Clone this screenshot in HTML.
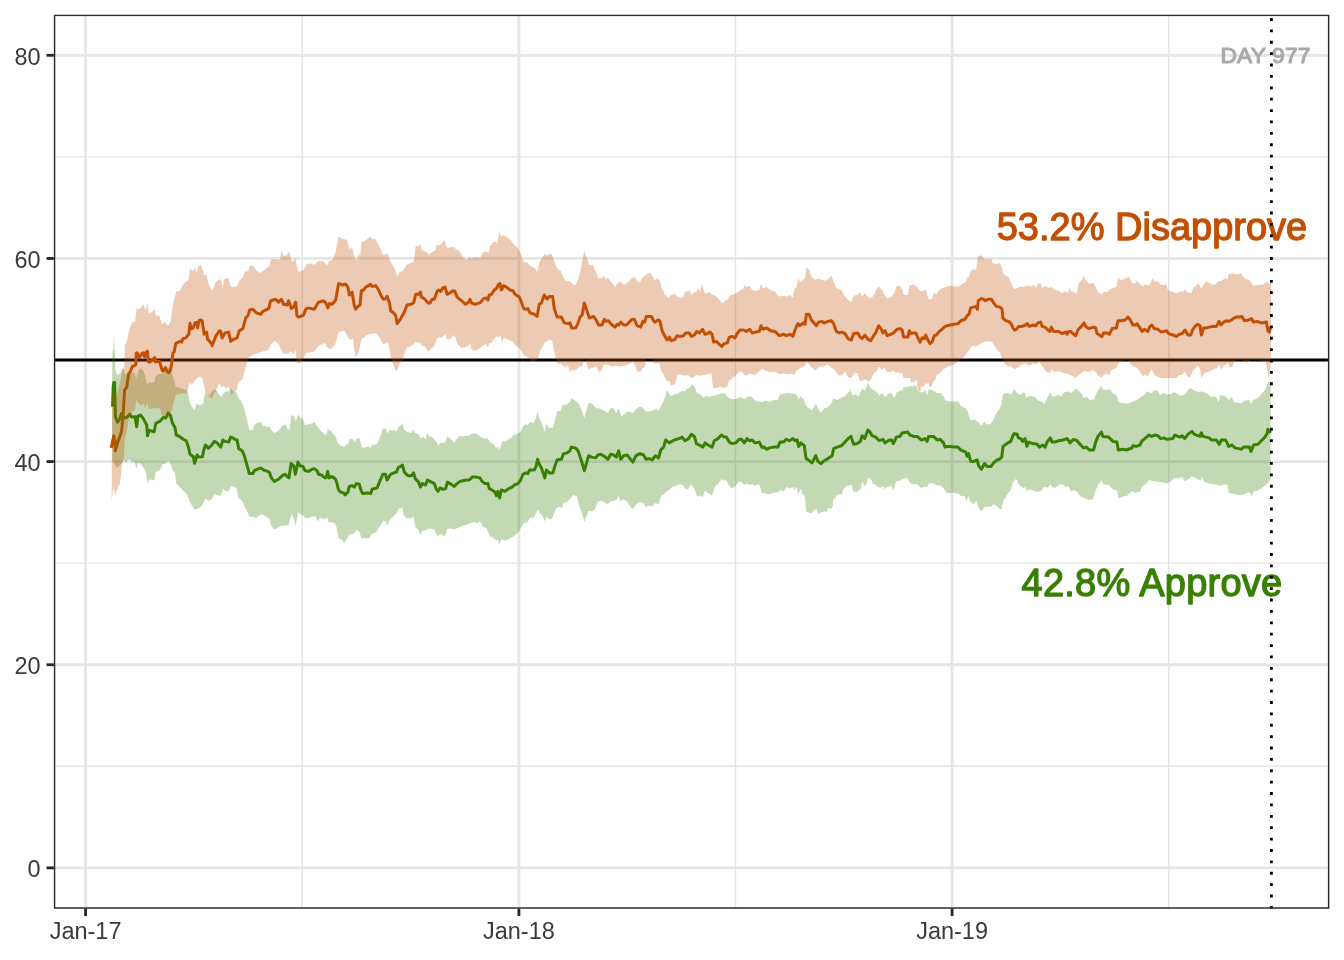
<!DOCTYPE html>
<html><head><meta charset="utf-8"><title>Approval chart</title>
<style>html,body{margin:0;padding:0;background:#fff}svg{display:block;will-change:transform;transform:translateZ(0)}text{font-family:"Liberation Sans",sans-serif}</style></head>
<body>
<svg width="1344" height="960" viewBox="0 0 1344 960">
<rect width="1344" height="960" fill="#fff"/>
<defs><clipPath id="pc"><rect x="53.85" y="14.67" width="1275.48" height="894.03"/></clipPath></defs>
<g clip-path="url(#pc)">
<g stroke="#E5E5E5" stroke-width="1.42">
<line x1="53.85" x2="1329.33" y1="766.30" y2="766.30"/>
<line x1="53.85" x2="1329.33" y1="563.16" y2="563.16"/>
<line x1="53.85" x2="1329.33" y1="360.02" y2="360.02"/>
<line x1="53.85" x2="1329.33" y1="156.88" y2="156.88"/>
<line x1="302.30" x2="302.30" y1="14.67" y2="908.70"/>
<line x1="735.50" x2="735.50" y1="14.67" y2="908.70"/>
<line x1="1168.70" x2="1168.70" y1="14.67" y2="908.70"/>
</g>
<g stroke="#E6E6E6" stroke-width="2.84">
<line x1="53.85" x2="1329.33" y1="867.87" y2="867.87"/>
<line x1="53.85" x2="1329.33" y1="664.73" y2="664.73"/>
<line x1="53.85" x2="1329.33" y1="461.59" y2="461.59"/>
<line x1="53.85" x2="1329.33" y1="258.45" y2="258.45"/>
<line x1="53.85" x2="1329.33" y1="55.31" y2="55.31"/>
<line x1="85.60" x2="85.60" y1="14.67" y2="908.70"/>
<line x1="518.90" x2="518.90" y1="14.67" y2="908.70"/>
<line x1="952.10" x2="952.10" y1="14.67" y2="908.70"/>
</g>
<line x1="53.85" x2="1329.33" y1="360.02" y2="360.02" stroke="#000" stroke-width="2.84"/>
<path d="M112.5 406.7 L113.2 386.7 L113.8 382.5 L114.6 382.5 L115.4 416.7 L117.5 422.1 L119.6 419.2 L121.7 413.3 L124.2 417.9 L126.7 417.5 L129.6 414.2 L131.7 417.1 L135.0 416.7 L136.7 426.7 L137.9 416.2 L140.4 415.0 L142.9 417.9 L146.7 425.0 L147.5 435.8 L149.2 430.4 L154.2 431.7 L155.8 423.3 L160.0 421.2 L163.3 417.5 L165.8 417.9 L168.3 412.9 L170.4 415.4 L172.5 423.3 L175.0 427.5 L176.2 435.0 L178.3 435.8 L183.3 439.2 L186.2 440.8 L188.3 446.7 L190.0 454.2 L193.3 456.7 L194.6 463.3 L197.1 455.0 L198.3 457.1 L202.5 456.7 L203.8 450.0 L205.4 445.0 L208.3 448.3 L211.7 445.2 L214.3 441.4 L217.1 442.9 L220.7 447.1 L222.9 440.0 L225.0 441.4 L228.6 442.1 L230.7 437.1 L232.9 437.9 L235.0 439.3 L237.1 440.0 L238.6 448.6 L242.1 450.7 L244.3 455.7 L247.1 465.7 L249.3 473.6 L252.9 473.6 L254.3 470.7 L257.1 469.3 L260.7 467.9 L263.6 470.0 L267.9 471.4 L269.7 472.9 L271.4 477.9 L274.3 481.4 L278.6 479.3 L282.1 475.7 L285.0 474.3 L287.1 476.4 L288.9 477.9 L291.1 463.6 L293.6 465.7 L295.4 474.3 L297.9 462.1 L300.0 465.7 L302.9 466.4 L305.0 470.7 L308.6 471.4 L312.1 469.3 L314.3 468.6 L317.1 470.7 L318.6 474.3 L321.4 475.0 L325.0 477.9 L326.4 477.1 L327.6 471.4 L329.0 477.9 L331.4 476.4 L335.0 478.6 L336.4 481.4 L338.6 490.0 L340.7 492.1 L343.6 492.9 L345.0 495.0 L347.9 492.1 L349.3 486.4 L352.1 485.7 L354.3 487.1 L356.4 483.6 L359.3 484.3 L361.4 491.4 L362.9 493.6 L367.9 492.9 L370.7 493.6 L372.1 489.3 L377.1 487.9 L380.0 480.7 L382.9 474.3 L385.4 474.3 L387.1 480.0 L390.0 475.0 L392.0 473.6 L393.6 472.9 L396.4 472.1 L398.6 467.1 L400.7 466.4 L402.4 465.0 L404.3 472.1 L407.9 475.7 L411.4 475.7 L413.6 472.9 L415.3 478.6 L418.6 482.1 L420.4 487.1 L422.4 483.6 L425.7 485.0 L427.4 480.0 L430.0 481.4 L434.3 483.6 L436.4 489.3 L438.1 491.4 L440.0 487.9 L442.9 489.3 L445.7 488.6 L447.4 482.1 L450.0 483.6 L454.3 486.4 L457.1 483.6 L460.0 481.4 L462.9 480.7 L466.4 480.0 L469.3 480.0 L472.1 477.1 L476.4 477.1 L480.0 477.9 L482.1 481.4 L485.0 483.6 L487.9 483.6 L489.3 488.6 L492.1 490.0 L495.0 492.1 L496.4 495.7 L497.9 491.4 L499.6 497.9 L501.4 490.0 L505.0 491.4 L508.6 488.6 L512.1 487.1 L514.3 485.0 L517.9 483.6 L520.7 480.0 L522.9 474.3 L525.7 472.9 L527.9 473.6 L529.6 470.0 L534.3 470.0 L536.1 466.4 L537.6 459.3 L539.3 464.3 L541.4 467.9 L543.6 474.3 L544.7 477.9 L546.4 470.0 L549.3 472.9 L552.9 472.9 L555.0 465.7 L557.1 460.0 L561.4 459.3 L563.6 453.6 L567.1 452.9 L570.0 450.7 L571.4 447.1 L575.0 447.9 L577.0 449.3 L578.6 452.1 L581.4 460.7 L584.3 470.7 L586.4 463.6 L588.6 455.7 L591.4 457.1 L595.7 457.9 L597.9 455.0 L600.7 454.3 L604.3 456.4 L607.9 459.3 L610.7 454.3 L613.6 455.0 L616.4 457.1 L618.6 450.7 L620.7 459.3 L623.6 455.7 L627.1 455.0 L630.0 458.6 L632.9 462.1 L636.0 455.7 L640.0 453.6 L643.6 455.0 L646.0 459.3 L649.3 458.6 L652.1 460.0 L655.4 455.7 L658.6 457.9 L660.7 450.0 L663.6 447.1 L665.7 440.0 L669.3 442.9 L672.9 440.7 L676.4 439.3 L679.3 438.6 L682.1 437.1 L685.0 440.7 L688.6 438.6 L691.4 434.3 L694.3 436.4 L696.4 443.6 L699.3 445.0 L702.9 447.1 L705.0 442.9 L707.9 445.0 L712.1 447.1 L714.3 440.7 L717.9 438.6 L721.4 435.0 L724.3 437.1 L726.4 437.1 L729.3 442.1 L732.1 443.6 L735.7 442.9 L739.3 439.3 L741.4 439.3 L744.3 442.9 L747.1 438.6 L749.3 440.7 L752.1 440.0 L755.0 442.9 L759.3 442.1 L762.0 447.4 L764.3 447.1 L766.4 449.3 L769.3 447.9 L773.6 447.1 L777.9 447.1 L780.0 442.1 L783.6 442.1 L786.1 439.3 L789.3 440.7 L792.9 438.6 L795.0 440.7 L797.1 440.0 L798.6 446.4 L800.7 442.9 L804.3 445.7 L806.1 458.6 L809.3 460.7 L812.1 462.9 L815.7 455.7 L817.9 461.4 L821.0 463.6 L824.3 460.7 L827.9 458.6 L832.1 455.7 L833.6 448.6 L837.1 447.1 L841.4 445.7 L845.0 442.1 L848.6 437.9 L851.0 436.4 L853.6 444.3 L857.1 443.6 L860.4 441.4 L862.1 435.7 L864.7 438.6 L867.9 430.0 L870.0 432.1 L872.1 435.7 L875.7 437.1 L879.3 440.7 L882.9 439.3 L885.0 442.9 L889.3 440.0 L891.4 440.0 L893.3 443.6 L896.4 437.1 L900.0 436.4 L902.1 432.9 L907.9 432.1 L910.0 435.0 L913.6 436.4 L917.1 436.4 L921.4 440.0 L925.0 438.6 L927.1 441.4 L928.6 436.4 L933.6 436.4 L937.1 440.0 L940.0 439.3 L943.6 442.9 L945.0 447.1 L947.0 446.4 L950.0 446.4 L954.3 447.1 L957.9 447.1 L960.7 450.0 L965.7 452.1 L967.1 456.4 L968.6 453.6 L970.7 461.4 L973.6 461.4 L977.1 460.0 L978.6 465.7 L981.4 469.3 L984.6 463.6 L987.1 466.4 L991.1 466.4 L993.6 462.9 L997.1 460.0 L999.3 459.3 L1001.7 457.1 L1003.1 446.4 L1005.0 445.0 L1007.9 442.9 L1010.7 441.4 L1012.9 435.7 L1014.3 433.6 L1017.1 434.3 L1018.3 437.9 L1020.7 438.6 L1022.6 441.4 L1025.0 438.6 L1026.9 446.4 L1028.6 442.1 L1032.9 443.6 L1037.1 444.3 L1039.3 447.1 L1042.9 445.0 L1045.0 447.1 L1047.1 442.1 L1050.3 437.9 L1052.1 442.1 L1055.0 442.1 L1058.6 440.7 L1062.9 440.0 L1067.1 438.6 L1070.0 442.9 L1073.6 439.3 L1077.1 440.7 L1080.0 444.3 L1083.6 447.9 L1086.4 447.1 L1089.3 450.0 L1093.6 450.0 L1095.7 442.1 L1097.9 436.4 L1101.4 432.1 L1102.9 436.4 L1108.6 437.1 L1112.9 441.4 L1116.9 442.1 L1118.3 450.0 L1122.9 449.3 L1126.4 450.0 L1132.0 447.9 L1132.9 445.7 L1136.4 446.4 L1140.0 445.0 L1142.1 440.7 L1145.7 437.9 L1149.0 435.0 L1151.4 436.4 L1155.0 435.0 L1157.9 435.7 L1160.7 438.6 L1163.6 437.9 L1167.1 439.3 L1172.9 438.6 L1174.7 435.0 L1177.9 436.4 L1180.0 437.1 L1182.1 435.7 L1184.7 438.6 L1187.9 434.3 L1191.9 431.4 L1194.3 434.3 L1197.9 435.7 L1200.0 436.4 L1201.4 432.9 L1202.9 436.4 L1206.4 437.1 L1209.3 437.9 L1211.4 440.0 L1216.4 440.0 L1219.3 444.3 L1221.4 440.0 L1225.7 440.0 L1228.6 446.4 L1232.1 445.0 L1235.0 447.9 L1238.6 448.6 L1241.4 449.3 L1243.6 447.1 L1249.3 447.1 L1251.0 451.4 L1253.6 445.0 L1257.9 444.3 L1261.4 440.7 L1265.0 437.1 L1267.1 433.6 L1267.9 429.3 L1270.7 432.9" fill="none" stroke="#388004" stroke-width="3.0" stroke-linejoin="round" stroke-linecap="butt"/>
<path d="M111.2 447.9 L113.8 435.8 L114.8 440.0 L115.4 450.8 L117.9 441.7 L120.4 435.0 L121.7 430.0 L123.3 411.7 L124.6 390.0 L126.7 387.5 L128.8 373.3 L130.4 371.7 L132.1 366.7 L134.2 365.8 L135.8 364.6 L136.2 353.3 L137.1 352.9 L139.2 357.5 L142.1 353.3 L143.3 352.9 L144.6 356.7 L146.2 352.1 L147.5 351.2 L148.3 361.7 L150.0 362.1 L152.1 360.0 L154.6 357.5 L155.4 362.1 L157.5 361.2 L159.6 361.7 L162.1 370.0 L162.9 371.2 L165.4 367.5 L167.1 371.7 L168.8 372.5 L170.4 370.4 L171.7 363.3 L172.9 353.3 L174.2 351.7 L175.8 343.3 L177.9 342.5 L180.4 341.2 L181.7 342.1 L182.9 338.8 L185.8 337.9 L188.8 334.2 L190.0 323.3 L191.2 328.8 L192.9 328.3 L195.0 322.9 L196.7 322.5 L197.5 327.9 L199.2 320.4 L200.8 320.0 L202.1 320.8 L204.2 334.2 L206.7 332.1 L207.5 339.2 L209.2 340.8 L211.7 344.0 L212.1 345.7 L215.7 336.4 L219.3 330.7 L220.7 331.4 L222.1 337.9 L225.0 332.9 L228.6 332.1 L230.7 341.4 L233.6 339.3 L237.1 337.9 L239.3 330.7 L242.9 328.6 L245.7 317.9 L247.9 315.7 L249.7 310.0 L252.9 309.3 L256.4 312.9 L260.7 314.3 L262.9 311.4 L268.6 308.6 L270.7 300.7 L275.7 299.3 L278.6 302.1 L281.4 299.3 L283.6 304.3 L287.1 305.0 L288.6 300.7 L291.4 308.6 L293.6 307.1 L295.7 302.1 L296.9 315.7 L298.6 317.1 L303.6 315.0 L305.7 309.3 L307.9 307.9 L314.3 309.3 L318.6 302.1 L323.6 300.7 L325.7 302.9 L327.9 307.9 L329.3 303.6 L332.1 304.3 L335.7 300.0 L338.6 283.6 L342.9 285.0 L345.7 284.0 L347.9 287.1 L349.3 295.0 L352.1 292.1 L354.3 305.7 L355.7 309.3 L357.1 307.1 L360.0 305.0 L361.4 290.7 L363.6 290.0 L365.7 287.1 L368.6 285.7 L370.4 284.3 L372.1 286.4 L375.7 285.7 L378.6 290.0 L381.4 296.4 L383.6 299.3 L385.7 298.6 L387.1 296.4 L389.3 302.1 L390.7 310.7 L393.6 312.9 L395.7 315.7 L397.1 323.6 L400.7 318.6 L403.6 313.6 L407.1 305.0 L410.7 304.3 L413.6 302.9 L415.7 294.3 L418.6 294.3 L420.4 292.1 L421.4 297.1 L424.3 298.6 L427.9 302.9 L430.0 302.9 L432.1 299.3 L434.3 299.3 L437.1 291.4 L438.6 290.0 L440.7 291.4 L442.9 287.9 L445.0 287.1 L447.1 294.3 L450.0 292.9 L452.9 290.7 L455.0 291.4 L457.1 297.1 L461.4 300.7 L465.7 304.3 L468.6 302.1 L470.0 299.3 L471.4 302.9 L475.0 304.3 L480.0 302.9 L483.6 298.6 L486.4 297.9 L487.9 300.0 L489.3 295.0 L491.4 294.3 L494.3 290.0 L496.4 288.6 L498.6 284.3 L500.0 283.6 L501.4 290.0 L503.6 285.7 L506.4 287.1 L510.0 290.0 L512.9 290.7 L515.0 294.3 L519.3 297.1 L521.4 302.1 L523.6 308.6 L525.7 309.3 L527.9 308.6 L530.0 312.9 L534.3 314.3 L537.1 316.4 L539.3 304.3 L541.4 302.9 L544.3 295.0 L547.0 299.0 L549.3 296.4 L552.6 296.4 L554.3 308.6 L557.1 317.1 L561.4 317.1 L564.3 322.9 L567.9 323.6 L570.0 322.9 L571.7 327.9 L575.7 327.9 L577.9 323.6 L580.0 317.1 L582.1 315.0 L584.3 302.9 L586.4 309.3 L589.3 317.9 L593.6 316.4 L595.7 319.3 L598.6 325.0 L602.1 325.0 L604.3 319.3 L606.0 321.4 L608.3 320.7 L611.4 324.3 L615.0 327.1 L617.1 324.3 L618.6 325.0 L620.7 322.1 L623.6 325.0 L626.4 325.0 L629.3 322.1 L632.1 319.3 L634.3 319.3 L637.1 325.7 L640.7 327.1 L642.9 321.4 L644.6 322.1 L646.4 316.4 L651.4 316.4 L653.6 320.7 L655.0 322.1 L657.9 320.0 L659.7 320.7 L662.1 330.7 L665.0 336.4 L667.1 340.0 L669.3 337.1 L671.1 340.7 L675.0 339.3 L676.9 335.7 L680.7 336.4 L683.6 335.7 L685.7 332.9 L689.3 332.9 L691.4 336.4 L694.3 335.0 L696.9 331.4 L699.3 332.9 L702.6 329.3 L705.0 334.3 L707.1 333.6 L710.0 332.1 L712.1 334.3 L713.6 342.1 L716.4 341.4 L719.3 344.3 L721.7 346.4 L724.3 343.6 L727.4 342.9 L729.3 337.1 L732.0 336.4 L735.0 337.9 L737.1 333.6 L740.0 330.0 L743.6 330.0 L746.4 331.4 L749.6 329.3 L752.4 332.9 L755.7 332.1 L759.3 331.4 L761.0 325.7 L762.9 329.3 L766.7 327.9 L770.7 330.7 L775.0 331.4 L779.3 335.7 L783.6 334.3 L786.4 335.7 L790.0 334.3 L792.9 336.4 L795.0 330.0 L797.9 323.6 L800.0 325.7 L803.3 322.9 L805.0 324.3 L806.4 314.3 L809.0 314.3 L811.4 320.0 L815.0 324.3 L816.4 325.7 L818.6 322.1 L822.1 321.4 L824.3 322.9 L827.9 321.4 L831.4 320.7 L833.6 323.6 L836.4 331.4 L839.3 332.9 L842.1 332.1 L845.0 333.6 L847.9 338.6 L851.4 340.0 L853.6 333.6 L857.9 332.9 L860.0 337.1 L862.1 338.6 L865.0 335.0 L867.9 339.3 L870.7 340.7 L873.6 335.7 L875.7 332.9 L878.6 325.7 L881.4 329.3 L882.9 332.9 L885.0 330.7 L887.1 335.7 L890.7 334.3 L893.6 332.9 L897.1 329.3 L900.0 328.6 L902.1 330.0 L903.6 337.1 L907.9 337.1 L909.3 330.7 L910.7 333.6 L913.6 332.9 L915.7 332.9 L917.0 335.7 L917.9 337.9 L920.0 342.1 L922.1 337.9 L924.3 338.6 L925.7 335.0 L927.9 340.0 L930.0 343.6 L932.1 342.1 L934.3 335.7 L936.4 335.0 L939.3 331.4 L942.1 329.3 L945.0 326.4 L950.0 325.0 L954.3 324.3 L957.9 323.6 L960.7 320.7 L965.0 319.3 L967.1 315.7 L968.9 314.3 L970.7 307.9 L973.6 307.1 L976.0 306.4 L977.4 309.3 L978.3 300.7 L981.4 298.6 L983.6 299.3 L985.4 300.7 L987.9 299.3 L991.4 299.3 L993.6 302.9 L996.4 306.4 L1000.0 307.1 L1002.1 309.3 L1002.9 317.9 L1005.7 320.7 L1008.6 321.4 L1011.1 323.6 L1012.9 327.9 L1014.6 330.0 L1016.4 329.3 L1018.6 326.4 L1022.1 326.4 L1025.4 325.0 L1027.1 323.6 L1029.3 326.4 L1032.9 325.0 L1035.7 325.7 L1037.9 322.9 L1040.7 322.1 L1042.1 326.4 L1045.0 327.1 L1047.9 330.0 L1050.0 331.4 L1051.4 327.1 L1053.6 331.4 L1058.6 331.4 L1062.1 333.6 L1065.7 332.1 L1067.1 334.3 L1068.6 331.4 L1070.7 331.4 L1072.9 333.6 L1075.7 335.7 L1077.9 330.0 L1081.4 326.4 L1084.0 322.9 L1085.7 326.4 L1088.6 328.6 L1093.6 327.1 L1095.7 327.9 L1097.1 333.6 L1102.0 336.7 L1103.6 332.9 L1107.1 332.9 L1109.3 334.3 L1112.1 328.6 L1116.4 327.9 L1118.1 320.7 L1121.4 320.7 L1125.0 320.0 L1128.1 317.1 L1130.7 320.7 L1132.9 325.0 L1135.3 325.0 L1137.1 323.6 L1139.3 327.1 L1142.1 331.4 L1144.3 329.3 L1147.9 331.4 L1150.0 326.4 L1151.9 325.0 L1154.3 328.6 L1157.9 329.3 L1161.4 332.1 L1164.3 331.4 L1166.4 330.7 L1168.6 333.6 L1172.9 335.0 L1176.4 336.4 L1179.3 334.3 L1182.1 333.6 L1185.0 330.0 L1187.9 335.0 L1190.7 335.0 L1192.9 329.3 L1195.7 325.7 L1197.6 324.3 L1200.0 325.7 L1201.4 335.0 L1203.6 327.9 L1206.4 327.9 L1209.3 327.1 L1212.9 326.4 L1216.4 326.4 L1219.0 321.4 L1221.0 325.0 L1223.6 322.1 L1226.4 320.7 L1228.6 321.4 L1231.4 320.0 L1234.3 317.9 L1236.4 317.1 L1239.3 317.1 L1241.9 316.4 L1244.3 320.7 L1248.6 320.0 L1251.4 318.6 L1253.6 322.1 L1257.1 321.4 L1261.4 322.9 L1266.4 322.1 L1267.9 330.7 L1269.3 332.1 L1271.0 326.4" fill="none" stroke="#C25004" stroke-width="3.0" stroke-linejoin="round" stroke-linecap="butt"/>
<path d="M112.2 380.0 L112.3 351.7 L113.3 350.0 L114.3 334.2 L115.0 358.3 L115.4 370.8 L117.5 375.0 L120.0 373.3 L122.5 367.5 L123.8 369.2 L125.0 374.2 L128.3 373.3 L132.1 372.9 L134.2 372.5 L135.4 375.0 L136.2 380.0 L137.1 372.5 L137.5 378.3 L138.3 370.0 L140.8 368.3 L143.3 370.8 L145.8 377.5 L147.1 385.0 L149.2 382.5 L154.2 382.5 L155.4 376.7 L158.3 374.2 L163.3 373.8 L166.7 369.2 L168.3 366.7 L170.8 370.8 L172.9 376.7 L173.3 378.3 L175.8 386.7 L180.0 387.9 L186.7 390.0 L187.5 390.8 L190.0 403.3 L192.5 407.5 L194.6 410.0 L196.7 403.3 L200.0 405.8 L203.3 403.3 L204.6 395.0 L205.4 392.5 L208.3 395.4 L208.9 395.7 L211.4 392.1 L215.0 389.3 L217.1 390.7 L217.9 393.6 L221.4 397.1 L223.6 392.9 L226.4 391.4 L229.0 391.1 L230.7 387.9 L233.6 391.7 L236.4 392.1 L238.6 397.9 L241.4 401.4 L244.3 408.6 L247.1 420.0 L249.3 430.0 L252.9 430.0 L254.3 425.0 L257.1 422.9 L260.7 421.4 L262.9 425.7 L267.9 427.1 L269.3 426.4 L271.4 430.0 L274.3 432.9 L278.6 430.7 L282.1 425.7 L285.7 424.3 L287.1 428.6 L289.3 430.0 L291.4 415.0 L294.3 416.4 L295.7 421.4 L298.3 414.3 L300.0 417.9 L302.9 418.6 L305.0 425.0 L308.6 424.3 L312.9 422.9 L314.3 421.4 L316.4 425.0 L320.0 430.0 L325.0 435.0 L326.9 433.6 L327.9 427.9 L329.3 430.7 L331.4 430.0 L332.9 434.3 L335.0 435.0 L337.9 442.9 L340.7 445.7 L344.3 447.1 L345.7 445.0 L348.6 442.9 L350.0 438.6 L352.9 439.3 L355.0 442.1 L357.1 437.9 L359.3 437.9 L361.4 445.7 L362.9 447.9 L368.6 446.4 L370.7 447.9 L372.1 445.0 L377.1 444.3 L380.0 437.1 L382.9 428.6 L385.7 428.6 L387.4 433.6 L390.0 430.0 L392.0 430.4 L393.6 430.0 L396.4 431.4 L398.6 426.4 L400.7 425.7 L402.4 423.6 L404.3 430.0 L407.9 432.1 L411.4 432.9 L413.3 429.3 L415.0 432.9 L418.6 434.3 L420.7 438.6 L423.6 437.1 L425.7 439.3 L427.1 432.9 L429.3 436.4 L432.1 437.1 L435.0 440.0 L438.6 445.7 L440.0 442.9 L443.6 442.9 L445.7 441.4 L447.1 436.4 L450.0 437.9 L454.3 442.9 L456.4 439.3 L460.0 435.7 L462.1 436.4 L466.4 435.7 L469.3 435.7 L472.1 433.6 L476.4 433.6 L479.3 435.7 L482.1 437.9 L485.0 438.6 L487.9 438.6 L490.0 442.1 L493.6 444.3 L496.4 448.6 L497.9 445.7 L499.3 450.7 L501.4 442.9 L502.9 440.7 L505.0 441.4 L508.6 439.3 L512.1 437.1 L514.3 434.3 L517.1 434.3 L520.7 431.4 L522.9 426.4 L525.7 424.3 L527.9 425.0 L530.0 421.4 L533.6 423.6 L535.7 418.6 L537.6 412.1 L539.3 418.6 L541.4 422.1 L543.6 427.9 L544.7 432.1 L546.4 424.3 L549.3 427.9 L552.9 427.9 L555.0 420.0 L557.1 411.4 L560.7 410.7 L562.9 405.0 L567.1 404.3 L570.0 401.4 L571.4 398.6 L574.3 400.0 L577.0 402.1 L578.6 403.6 L581.4 409.3 L584.3 417.9 L586.4 410.0 L588.6 402.9 L592.1 403.6 L595.7 407.9 L600.0 408.6 L604.3 410.7 L607.9 412.9 L610.7 407.9 L613.6 408.6 L616.4 412.9 L618.6 407.9 L621.4 416.4 L624.3 414.3 L627.1 411.4 L630.0 412.1 L632.9 413.6 L635.7 409.3 L640.0 406.4 L642.9 407.9 L645.7 411.4 L650.0 411.4 L653.6 410.0 L656.4 408.6 L658.6 410.7 L661.4 405.0 L663.6 400.7 L665.0 397.1 L666.9 390.0 L668.6 392.9 L670.7 395.7 L674.3 394.3 L678.6 393.6 L681.4 390.7 L684.3 391.4 L686.4 389.3 L689.3 387.9 L692.1 384.3 L695.0 387.1 L696.4 392.1 L699.3 394.3 L701.4 395.0 L703.6 397.9 L705.7 395.7 L708.6 397.1 L712.9 395.7 L717.1 395.0 L721.4 393.6 L725.0 392.9 L727.1 396.4 L730.0 398.6 L733.6 399.3 L737.1 398.6 L740.7 397.1 L744.3 399.3 L747.9 396.4 L751.4 396.4 L754.3 400.0 L758.6 401.4 L762.0 402.1 L765.7 400.7 L769.3 402.1 L773.6 400.0 L777.9 400.0 L779.3 395.0 L783.6 393.6 L787.9 392.9 L792.1 393.6 L796.4 394.3 L798.6 399.3 L800.7 396.4 L803.6 399.3 L805.7 405.0 L808.6 407.9 L812.1 410.7 L815.7 403.6 L817.9 407.9 L820.7 412.9 L824.3 408.6 L827.9 407.1 L830.7 404.3 L833.6 398.6 L837.1 400.0 L840.7 397.9 L844.3 396.4 L847.9 392.9 L850.0 390.0 L852.9 395.7 L855.7 394.3 L858.6 396.4 L862.1 388.6 L865.0 390.7 L867.9 382.9 L870.7 388.6 L873.6 390.0 L876.4 391.4 L879.3 395.7 L882.1 392.9 L885.0 397.1 L888.6 393.6 L890.0 393.1 L891.6 393.3 L893.1 396.5 L894.4 397.8 L895.5 395.9 L896.5 392.6 L898.3 391.5 L900.2 390.7 L901.2 389.2 L902.2 391.8 L903.3 387.6 L905.1 387.1 L908.0 386.6 L909.0 387.6 L910.1 385.3 L910.8 385.8 L912.4 387.1 L914.0 385.3 L915.0 386.0 L916.6 385.8 L917.3 389.2 L918.4 391.2 L919.9 391.2 L921.0 392.8 L922.6 392.3 L923.9 392.0 L924.6 389.9 L925.7 390.7 L926.5 393.3 L927.5 395.4 L928.3 389.7 L929.8 389.2 L931.7 389.4 L933.2 390.5 L934.5 391.5 L935.6 391.2 L936.6 393.1 L939.5 393.1 L941.6 393.3 L942.1 395.4 L943.6 396.2 L944.7 399.6 L945.5 401.4 L946.5 400.1 L947.0 401.0 L950.0 401.4 L954.3 401.4 L958.6 401.4 L960.7 405.7 L965.7 408.6 L967.9 412.1 L970.0 420.0 L972.9 420.0 L975.0 419.3 L977.9 422.1 L981.4 425.7 L984.3 421.4 L986.4 424.3 L990.7 424.3 L993.6 419.3 L996.4 413.6 L999.3 409.3 L1001.4 404.3 L1002.9 395.0 L1005.0 392.9 L1008.6 393.6 L1011.4 394.3 L1014.3 389.3 L1017.1 392.9 L1020.0 395.0 L1022.6 392.9 L1024.3 392.1 L1026.4 397.9 L1029.3 395.7 L1034.3 396.4 L1038.6 400.7 L1042.1 401.4 L1044.3 404.3 L1047.1 398.6 L1050.3 392.1 L1052.1 397.1 L1055.7 395.7 L1059.3 395.0 L1061.1 397.1 L1064.3 392.1 L1068.6 391.4 L1071.4 392.9 L1076.4 388.6 L1079.3 391.4 L1082.1 394.3 L1083.6 397.9 L1087.1 397.1 L1090.0 400.0 L1094.0 399.3 L1096.4 393.6 L1098.6 389.3 L1101.1 385.7 L1102.9 389.3 L1105.7 390.0 L1110.0 389.3 L1112.9 393.6 L1116.4 395.0 L1118.6 402.1 L1122.9 402.9 L1127.1 403.6 L1132.0 402.1 L1133.6 401.4 L1137.9 399.3 L1141.4 396.4 L1143.6 395.7 L1146.4 391.4 L1149.3 392.1 L1151.4 393.6 L1154.3 390.0 L1157.9 390.7 L1160.0 395.0 L1162.9 392.9 L1166.4 394.3 L1170.7 394.3 L1174.3 392.1 L1177.9 394.3 L1180.7 395.7 L1185.0 394.3 L1187.9 390.0 L1190.7 387.9 L1195.0 390.7 L1198.6 392.1 L1202.1 391.4 L1206.4 392.9 L1210.7 396.4 L1215.7 396.4 L1218.6 402.1 L1220.4 395.0 L1223.6 395.7 L1225.7 396.4 L1228.6 400.0 L1231.4 397.1 L1234.3 402.1 L1238.6 402.9 L1241.4 403.6 L1244.3 400.7 L1249.3 400.0 L1251.0 404.3 L1253.6 400.0 L1257.9 397.9 L1261.4 394.3 L1264.3 390.7 L1266.4 387.1 L1268.6 380.7 L1270.7 384.3 L1270.7 479.3 L1267.9 482.9 L1265.0 485.7 L1261.4 487.9 L1257.9 490.7 L1253.6 491.4 L1251.4 496.4 L1250.0 492.1 L1246.4 492.9 L1242.1 495.0 L1237.9 495.0 L1232.1 493.6 L1228.6 492.9 L1227.6 485.0 L1225.0 484.3 L1219.3 485.7 L1215.0 484.3 L1209.3 483.6 L1203.6 481.4 L1202.1 476.4 L1200.7 480.7 L1196.4 478.6 L1191.9 476.4 L1187.9 479.3 L1185.0 481.4 L1182.1 477.1 L1177.9 478.6 L1174.3 477.9 L1170.7 481.4 L1166.4 483.6 L1160.7 482.1 L1155.0 481.4 L1151.4 480.7 L1149.3 480.0 L1145.7 484.3 L1142.1 486.4 L1140.0 491.4 L1137.9 492.1 L1135.0 492.9 L1132.0 490.7 L1127.1 495.7 L1122.9 496.4 L1118.6 498.6 L1117.1 490.7 L1112.9 489.3 L1108.6 485.0 L1103.1 484.3 L1101.4 480.0 L1097.9 485.7 L1095.0 492.1 L1092.9 499.3 L1088.6 500.0 L1084.3 497.9 L1080.7 496.4 L1077.1 492.1 L1074.3 490.0 L1070.7 491.4 L1068.6 486.4 L1065.7 487.1 L1062.1 484.3 L1058.6 485.0 L1055.0 487.9 L1052.1 487.1 L1050.3 484.3 L1047.1 487.9 L1044.3 486.4 L1041.4 490.7 L1037.9 492.1 L1033.6 490.7 L1029.3 489.3 L1026.9 491.4 L1025.4 487.1 L1023.1 488.6 L1021.4 485.7 L1018.6 485.0 L1017.1 480.0 L1015.0 479.3 L1012.9 482.9 L1010.7 490.0 L1007.9 493.6 L1005.0 498.6 L1003.1 500.7 L1001.7 509.3 L999.3 508.6 L997.1 506.4 L993.6 504.3 L991.1 506.4 L987.1 507.1 L984.6 507.1 L981.4 511.4 L978.6 507.9 L976.4 500.7 L973.6 504.3 L970.3 501.4 L968.3 495.7 L966.4 502.1 L965.0 496.4 L960.7 495.7 L957.9 493.6 L954.3 492.9 L950.0 492.9 L947.0 492.9 L943.6 488.6 L940.0 485.0 L937.1 485.7 L933.6 482.9 L928.6 483.6 L927.1 487.1 L925.0 486.4 L921.4 487.9 L917.1 484.3 L913.6 484.3 L910.0 482.9 L907.9 478.6 L905.0 477.9 L902.1 479.3 L899.2 481.2 L896.2 481.2 L894.2 487.9 L892.9 490.0 L891.7 486.2 L889.6 486.2 L887.1 487.1 L884.6 489.2 L883.3 486.2 L881.2 487.5 L878.3 487.5 L874.6 484.2 L872.5 483.8 L871.7 480.4 L868.3 477.5 L867.1 480.8 L865.7 485.8 L864.2 485.8 L862.7 482.1 L861.7 483.8 L860.7 490.4 L859.6 489.2 L856.7 492.1 L853.3 491.7 L852.5 489.6 L851.8 484.2 L850.0 485.4 L847.5 485.4 L845.0 487.5 L843.3 489.6 L841.7 494.6 L839.2 494.2 L837.5 494.6 L836.2 495.8 L835.0 498.8 L833.3 499.2 L832.7 505.8 L831.7 508.3 L829.6 508.2 L827.5 508.8 L826.7 512.5 L824.6 511.2 L822.1 512.5 L820.0 512.5 L818.3 514.6 L816.7 509.2 L815.4 509.0 L813.3 510.8 L811.7 513.3 L808.8 512.5 L806.2 512.1 L805.4 503.3 L804.8 495.4 L802.5 494.6 L801.7 489.6 L800.4 489.2 L798.3 494.2 L796.7 487.5 L795.8 487.1 L795.0 490.0 L792.9 487.1 L790.0 488.6 L786.4 487.1 L783.6 491.4 L780.7 490.0 L777.9 492.1 L772.9 492.9 L768.6 494.3 L765.7 493.6 L762.0 492.9 L758.9 484.3 L755.0 485.7 L752.1 484.3 L749.3 485.0 L746.9 483.6 L744.3 485.0 L742.1 482.1 L739.3 481.4 L735.7 485.7 L732.1 488.6 L728.6 485.0 L726.4 480.7 L723.6 480.0 L721.4 479.3 L717.9 484.3 L715.0 486.4 L712.1 495.7 L707.9 492.9 L705.0 490.7 L702.9 497.1 L700.0 495.7 L697.1 496.4 L694.3 488.6 L691.4 484.3 L687.9 489.3 L685.0 488.6 L682.9 485.0 L679.3 484.3 L675.7 485.7 L672.1 487.1 L669.3 490.0 L666.4 491.4 L664.3 494.3 L662.1 495.0 L660.7 497.1 L658.6 504.3 L655.4 502.9 L652.1 506.4 L649.3 505.7 L646.0 507.1 L643.6 502.9 L640.0 502.1 L636.0 504.3 L632.9 509.3 L630.0 506.4 L627.1 501.4 L624.0 499.3 L620.7 501.4 L618.6 495.7 L616.4 500.0 L614.3 500.7 L610.7 501.4 L607.4 504.3 L604.3 502.1 L600.7 500.7 L597.9 501.4 L595.0 509.3 L591.4 511.4 L588.6 510.7 L586.4 516.4 L584.3 522.1 L581.4 511.4 L578.6 504.3 L577.0 496.4 L572.9 495.0 L570.7 497.9 L567.9 501.4 L563.6 502.9 L562.1 507.9 L560.0 507.1 L556.4 507.9 L554.3 512.9 L552.1 518.6 L549.3 519.3 L546.4 516.4 L544.7 521.4 L542.9 517.1 L540.0 513.6 L537.9 509.3 L536.1 513.6 L534.3 517.1 L529.3 518.6 L527.9 522.1 L523.6 522.9 L521.4 527.1 L518.6 532.1 L513.6 536.4 L509.3 538.6 L505.7 540.7 L501.4 539.3 L499.3 544.3 L497.9 539.3 L496.4 540.7 L493.6 537.9 L490.0 536.4 L488.1 532.1 L486.4 527.9 L482.9 527.1 L480.0 520.7 L477.9 523.6 L474.3 522.1 L470.7 522.9 L466.4 525.0 L462.1 525.7 L457.9 527.9 L454.3 529.3 L450.0 528.6 L447.1 529.3 L445.0 536.4 L443.6 535.7 L440.0 533.6 L437.6 536.4 L435.7 532.9 L434.3 529.3 L429.3 528.6 L426.4 530.0 L422.4 530.7 L420.4 535.0 L418.6 530.0 L415.3 527.1 L413.6 516.4 L411.4 518.6 L406.4 517.9 L403.6 515.0 L402.4 507.1 L400.7 508.6 L398.6 508.6 L396.4 513.6 L393.6 516.4 L392.0 517.4 L390.0 520.0 L387.1 525.7 L385.4 520.7 L382.9 521.4 L379.3 527.1 L376.4 532.1 L371.4 534.3 L369.3 538.6 L364.3 537.9 L361.4 538.6 L359.3 531.4 L356.4 530.0 L354.3 532.9 L352.1 534.3 L349.3 534.3 L346.4 540.0 L344.3 542.9 L341.4 539.3 L338.6 538.6 L336.4 526.4 L335.0 523.6 L331.4 522.1 L328.6 522.1 L327.1 517.1 L325.0 519.3 L322.9 518.6 L320.0 517.9 L317.9 521.4 L315.7 516.4 L312.9 516.4 L308.6 517.9 L305.0 517.9 L302.9 515.0 L300.0 514.3 L298.3 512.1 L295.7 525.7 L293.6 517.9 L291.4 514.3 L288.6 525.0 L284.3 525.7 L280.7 525.7 L277.9 527.9 L274.3 529.3 L271.4 526.4 L269.3 518.6 L265.7 516.4 L262.1 514.3 L258.6 515.7 L256.4 517.9 L253.6 517.1 L249.3 516.4 L247.1 511.4 L244.3 505.7 L241.4 500.0 L238.6 498.6 L236.4 487.9 L233.6 486.4 L230.7 486.4 L228.6 491.4 L225.0 490.7 L222.9 488.6 L220.7 495.7 L217.1 495.0 L214.3 494.3 L211.7 499.3 L208.3 500.8 L205.4 498.3 L202.5 505.0 L199.2 508.3 L194.6 509.6 L191.7 505.0 L190.0 502.5 L188.3 497.5 L186.2 493.3 L183.3 490.8 L178.3 485.4 L176.2 483.3 L175.0 473.3 L172.5 470.0 L170.8 464.2 L168.3 460.4 L165.8 463.3 L162.5 464.2 L160.0 470.0 L155.4 472.5 L154.6 480.4 L149.2 479.2 L147.5 484.2 L146.2 473.3 L143.3 467.5 L140.4 463.3 L137.5 463.3 L136.2 469.6 L135.0 462.1 L132.1 461.7 L129.2 459.2 L125.0 462.9 L124.2 459.2 L122.1 463.3 L117.1 467.9 L112.3 460.8 L112.2 430.0 Z" fill="#388004" fill-opacity="0.3"/>
<path d="M112.1 398.0 L113.6 386.0 L115.4 398.5 L116.2 397.8 L118.5 388.7 L121.0 377.4 L122.2 372.0 L124.2 366.7 L125.0 345.0 L126.7 341.7 L129.2 329.2 L132.1 322.5 L135.0 321.8 L136.7 308.3 L138.8 309.6 L141.2 307.5 L143.3 304.0 L145.4 310.4 L147.5 303.3 L148.8 313.8 L151.7 312.1 L154.6 309.6 L155.8 315.4 L159.2 315.8 L162.1 324.2 L165.0 322.1 L168.3 325.8 L170.8 320.8 L172.9 304.3 L176.4 291.4 L180.0 290.7 L183.6 283.6 L188.6 280.0 L190.0 267.9 L192.9 271.4 L195.0 267.1 L196.4 272.9 L198.6 265.7 L201.4 265.7 L204.3 275.7 L206.4 274.3 L208.6 284.3 L212.1 290.7 L215.7 282.1 L219.3 279.3 L221.4 280.7 L222.6 287.9 L224.3 279.3 L228.6 277.9 L230.7 287.1 L237.1 286.4 L239.3 280.7 L242.9 277.1 L245.7 270.7 L247.9 271.4 L250.0 265.7 L252.9 265.7 L255.7 270.0 L260.0 272.9 L265.0 269.3 L269.3 266.4 L270.7 259.3 L277.1 259.3 L280.0 260.0 L281.4 250.0 L283.6 255.7 L286.4 255.7 L288.3 252.1 L290.0 253.6 L291.4 260.7 L294.3 260.7 L295.4 257.9 L296.4 264.3 L298.6 272.1 L303.6 270.0 L306.4 264.3 L311.4 263.6 L314.3 265.0 L318.6 260.7 L323.6 261.4 L327.1 265.7 L328.6 261.4 L332.1 260.0 L335.7 252.1 L338.6 236.4 L343.6 239.3 L347.1 240.0 L349.3 249.3 L352.1 247.1 L354.3 256.4 L356.4 260.7 L359.3 252.9 L360.0 257.1 L361.4 242.1 L365.0 240.7 L367.9 238.6 L370.4 236.4 L372.1 239.3 L375.0 238.6 L377.9 243.6 L380.7 249.3 L382.9 255.0 L385.7 254.3 L387.9 253.6 L390.0 260.7 L392.1 264.3 L395.0 269.3 L397.1 276.4 L400.0 272.1 L402.9 270.7 L406.4 265.0 L409.3 263.6 L413.6 262.1 L415.7 245.7 L418.6 246.4 L420.4 242.9 L421.4 250.0 L425.0 251.4 L429.3 254.3 L432.9 251.4 L435.0 250.7 L437.1 244.3 L439.3 245.7 L442.1 242.9 L444.7 240.0 L446.4 247.1 L449.3 247.9 L452.1 246.4 L456.4 249.3 L460.0 251.4 L462.9 257.1 L466.4 260.0 L469.3 257.1 L471.4 258.6 L475.7 257.1 L480.0 257.9 L483.6 252.1 L486.4 251.4 L488.6 252.9 L490.0 246.4 L492.9 242.1 L495.7 242.1 L497.1 243.6 L499.3 232.1 L501.4 236.4 L503.6 235.0 L506.4 237.1 L510.7 240.0 L514.3 245.0 L517.9 247.9 L520.7 253.6 L523.6 261.4 L527.9 262.9 L530.0 265.7 L535.0 267.9 L537.1 272.1 L540.0 260.7 L542.1 258.6 L545.0 253.6 L547.0 255.7 L549.3 253.6 L552.1 254.3 L554.3 262.1 L557.1 268.6 L560.7 270.7 L563.6 277.9 L565.7 280.7 L570.0 281.4 L573.6 285.0 L575.7 285.0 L577.9 279.3 L580.0 272.9 L582.1 261.4 L584.3 250.7 L586.4 257.1 L589.3 265.0 L592.9 265.0 L595.7 271.4 L598.6 278.6 L602.1 277.9 L604.0 275.7 L605.7 279.3 L607.9 277.9 L611.4 282.1 L615.0 287.1 L617.9 282.9 L620.7 281.4 L623.6 285.0 L626.4 283.6 L629.3 280.7 L632.1 277.9 L635.0 277.1 L637.1 281.4 L640.0 282.9 L642.1 277.9 L645.0 275.7 L647.9 273.6 L650.7 272.9 L652.9 277.1 L655.0 280.7 L657.9 277.9 L660.0 282.1 L662.1 289.3 L665.0 294.3 L668.6 297.9 L670.7 295.0 L675.0 294.3 L677.9 296.4 L680.7 297.9 L683.6 297.1 L685.0 291.4 L688.6 291.4 L690.0 290.0 L691.4 295.0 L694.3 292.1 L696.4 291.4 L697.9 288.6 L700.0 291.4 L702.1 285.0 L704.3 292.1 L705.7 293.6 L709.3 292.1 L712.9 295.0 L716.4 296.4 L719.3 300.0 L722.1 303.6 L725.0 300.7 L727.9 299.3 L730.0 295.0 L732.0 295.0 L735.7 293.6 L739.3 290.7 L742.9 289.3 L744.7 285.0 L746.4 287.1 L749.6 285.7 L752.1 290.0 L755.7 290.7 L759.3 290.0 L761.0 283.6 L762.9 288.6 L766.4 287.1 L770.7 290.0 L775.0 291.4 L778.6 296.4 L783.6 295.7 L786.4 296.4 L790.0 295.0 L792.9 297.9 L794.3 288.6 L796.4 287.9 L798.1 277.9 L800.0 282.1 L802.9 280.0 L805.0 278.6 L806.7 267.1 L809.3 270.0 L811.4 276.4 L815.0 280.0 L817.9 278.6 L822.1 280.0 L825.7 280.7 L828.6 278.6 L831.4 275.7 L833.6 281.4 L836.4 287.9 L839.3 289.3 L842.1 290.7 L844.3 295.7 L847.9 300.0 L851.4 302.1 L853.6 295.7 L857.9 295.0 L860.0 292.1 L862.1 296.4 L865.0 292.9 L867.1 296.4 L870.7 298.6 L873.6 295.7 L876.4 289.3 L878.6 286.4 L882.1 290.0 L884.3 295.0 L887.1 298.6 L891.4 297.1 L894.3 292.9 L896.4 285.7 L899.3 285.7 L902.1 289.3 L903.6 295.0 L907.9 295.0 L909.3 285.7 L913.6 284.3 L917.0 287.1 L917.9 287.9 L920.7 291.4 L923.6 290.7 L925.7 289.3 L927.1 295.0 L929.3 300.0 L932.1 298.6 L933.6 292.9 L936.4 294.3 L938.6 290.7 L941.4 288.6 L945.7 287.1 L950.0 285.7 L954.3 286.4 L958.6 286.4 L962.1 284.3 L965.7 282.1 L967.1 277.9 L969.3 276.4 L970.7 270.7 L973.6 269.3 L976.0 270.0 L977.9 256.4 L981.4 255.0 L984.3 259.3 L987.9 259.3 L991.1 258.6 L992.6 262.9 L995.7 264.3 L1000.0 262.9 L1001.7 267.1 L1002.9 272.9 L1005.7 275.7 L1008.6 277.1 L1010.7 282.1 L1012.9 287.1 L1015.0 289.3 L1018.6 287.1 L1022.9 287.1 L1027.1 285.7 L1031.4 286.4 L1034.3 285.0 L1035.7 288.6 L1037.9 283.6 L1040.7 283.6 L1042.1 287.9 L1045.0 285.7 L1048.6 287.9 L1051.4 287.1 L1054.3 290.0 L1058.6 290.7 L1062.1 293.6 L1065.7 290.7 L1067.9 292.9 L1069.3 287.9 L1071.4 291.4 L1074.3 292.1 L1076.4 294.3 L1078.6 283.6 L1081.4 280.7 L1084.0 275.7 L1085.7 280.0 L1088.6 283.6 L1093.6 282.9 L1095.7 287.1 L1097.9 292.1 L1102.0 294.7 L1103.6 292.1 L1107.9 291.4 L1111.4 288.6 L1116.4 287.1 L1118.1 277.9 L1121.4 280.0 L1125.7 278.6 L1128.6 276.4 L1130.7 280.0 L1132.4 283.6 L1135.7 282.9 L1137.1 280.7 L1139.3 283.6 L1142.9 286.4 L1145.0 284.3 L1148.6 285.7 L1150.7 282.9 L1152.4 278.6 L1155.0 281.4 L1157.9 281.4 L1161.0 285.0 L1164.3 285.0 L1166.4 284.3 L1167.9 290.0 L1172.1 291.4 L1176.4 293.6 L1180.0 291.4 L1182.9 291.4 L1185.0 289.3 L1187.9 292.9 L1191.4 292.9 L1193.6 287.1 L1195.7 286.4 L1197.6 282.9 L1200.0 285.7 L1201.4 289.3 L1203.6 284.3 L1206.4 281.4 L1209.3 282.9 L1212.1 285.0 L1215.7 284.3 L1218.1 281.4 L1221.4 280.7 L1223.6 279.3 L1225.7 277.9 L1227.9 280.0 L1228.6 274.3 L1232.9 273.6 L1237.1 274.3 L1241.4 273.6 L1244.3 278.6 L1249.3 280.0 L1251.4 282.9 L1253.6 285.7 L1257.9 285.0 L1262.1 285.0 L1265.0 283.6 L1267.1 280.7 L1268.6 284.3 L1271.0 282.9 L1271.0 360.7 L1270.0 370.7 L1268.6 377.9 L1267.1 369.3 L1265.7 361.4 L1261.4 360.7 L1256.4 360.0 L1250.7 360.0 L1248.6 361.4 L1244.3 362.1 L1242.1 360.0 L1237.9 360.0 L1234.3 360.7 L1232.9 365.7 L1230.0 367.9 L1228.1 362.1 L1226.4 364.3 L1223.6 365.7 L1221.0 370.0 L1219.3 364.3 L1217.1 367.9 L1213.6 369.3 L1209.3 371.4 L1204.3 372.9 L1201.4 378.6 L1200.0 367.9 L1197.6 365.7 L1195.7 367.9 L1192.9 370.7 L1190.0 377.1 L1187.9 377.1 L1185.0 371.4 L1182.1 375.0 L1179.3 375.0 L1176.4 377.9 L1172.9 377.9 L1169.3 377.9 L1166.4 377.9 L1162.1 378.6 L1157.9 377.1 L1154.3 375.0 L1151.9 369.3 L1150.0 371.4 L1147.9 376.4 L1145.0 374.3 L1142.9 376.4 L1140.0 372.1 L1137.1 367.9 L1134.3 366.4 L1130.7 364.3 L1128.1 360.0 L1125.0 360.0 L1121.4 361.4 L1118.6 362.9 L1116.4 367.9 L1111.4 370.0 L1109.3 375.7 L1107.1 373.6 L1103.6 375.0 L1102.0 377.6 L1097.9 375.7 L1095.7 372.1 L1092.9 370.0 L1088.6 372.1 L1085.0 370.7 L1081.4 372.9 L1077.9 375.7 L1075.7 377.9 L1072.1 375.7 L1068.6 374.3 L1064.3 373.6 L1060.0 371.4 L1054.3 372.1 L1051.4 369.3 L1050.0 372.9 L1045.7 371.4 L1042.1 365.7 L1039.3 362.1 L1036.4 364.3 L1032.9 363.6 L1028.6 365.7 L1025.7 363.6 L1022.1 364.3 L1018.6 367.1 L1014.3 369.3 L1011.4 366.4 L1008.6 366.4 L1004.3 363.6 L1002.9 360.7 L1000.0 352.9 L995.7 347.9 L992.1 342.1 L990.0 341.4 L985.7 341.4 L982.1 342.9 L978.6 345.0 L975.7 346.4 L972.1 345.7 L969.3 350.0 L965.7 355.0 L962.9 357.9 L958.6 360.7 L955.7 363.6 L951.4 365.7 L947.9 366.4 L943.6 369.3 L940.0 372.9 L936.4 375.0 L935.8 379.0 L934.3 380.3 L933.2 382.4 L931.4 386.8 L929.3 386.8 L928.5 382.9 L927.2 384.0 L925.9 382.7 L924.1 385.8 L922.3 387.1 L921.2 385.5 L920.7 390.7 L919.9 391.2 L918.4 390.7 L917.3 386.0 L916.8 380.3 L916.0 380.1 L914.5 382.1 L910.8 382.4 L910.1 377.4 L909.3 378.0 L903.3 378.0 L902.5 371.7 L901.2 374.6 L900.2 372.8 L895.2 372.5 L893.4 370.2 L891.6 371.5 L890.0 372.0 L887.1 372.1 L884.3 367.9 L881.4 370.0 L879.3 366.4 L876.4 371.4 L873.6 373.6 L871.4 378.6 L868.6 382.1 L865.0 379.3 L862.1 380.7 L859.6 380.7 L857.9 372.9 L853.6 373.6 L851.4 377.9 L847.9 377.1 L845.0 371.4 L842.1 375.0 L839.3 375.7 L836.4 372.9 L834.3 369.3 L831.4 367.9 L827.9 364.3 L823.6 366.4 L818.6 367.1 L815.7 370.7 L812.1 367.9 L809.3 364.3 L806.7 362.1 L805.0 365.7 L803.3 366.4 L800.0 368.6 L796.4 370.7 L794.3 375.0 L792.1 373.6 L787.9 374.3 L783.6 373.6 L779.3 374.3 L775.0 372.1 L769.3 372.1 L765.0 370.7 L762.0 368.6 L758.6 372.1 L754.3 375.0 L750.0 373.6 L745.7 375.7 L741.4 371.4 L738.6 372.1 L735.7 375.7 L732.1 378.6 L729.3 380.0 L727.1 387.1 L723.6 388.6 L720.0 386.4 L715.7 387.9 L712.9 387.9 L711.4 373.6 L707.9 374.3 L704.3 375.0 L700.0 375.7 L696.4 375.0 L692.1 378.6 L687.9 375.0 L684.3 375.7 L680.7 374.3 L677.1 375.0 L675.7 383.6 L671.4 385.7 L669.3 380.7 L667.1 381.4 L664.3 375.7 L661.4 371.4 L659.3 363.6 L657.1 362.9 L653.6 363.6 L651.4 358.6 L646.4 358.6 L645.0 366.4 L642.9 367.9 L640.7 371.4 L637.1 371.4 L635.0 365.0 L632.9 362.1 L628.6 364.3 L624.3 365.7 L620.0 366.4 L615.7 365.7 L611.4 366.4 L607.1 364.3 L603.6 365.0 L601.4 370.7 L598.6 371.4 L596.4 366.4 L591.4 367.9 L588.6 369.3 L586.4 363.6 L584.3 357.6 L582.1 366.4 L579.3 366.4 L577.1 369.3 L573.6 370.0 L570.0 371.4 L567.9 365.7 L564.3 367.1 L560.7 363.6 L557.9 364.3 L555.7 358.6 L553.6 349.3 L552.1 340.7 L549.3 340.0 L547.0 341.4 L545.0 342.1 L542.1 347.9 L540.0 350.7 L537.9 358.6 L535.0 360.7 L530.7 360.7 L527.9 357.1 L524.3 355.7 L520.7 350.0 L519.3 347.9 L515.0 345.0 L512.9 341.4 L510.0 340.7 L506.4 338.6 L503.6 337.9 L502.1 342.9 L500.7 335.7 L498.6 337.1 L496.4 336.4 L494.3 338.6 L491.4 342.9 L489.3 342.9 L487.9 347.9 L486.4 344.3 L483.6 345.0 L480.0 347.9 L475.0 350.7 L471.4 349.3 L470.0 342.9 L468.6 345.7 L465.7 347.1 L461.4 347.9 L457.1 343.6 L455.7 337.9 L453.3 335.0 L450.0 339.3 L447.1 339.3 L445.3 334.3 L443.6 335.7 L441.4 337.9 L439.3 337.1 L437.1 338.6 L434.3 345.7 L432.1 347.9 L430.0 350.0 L427.9 351.4 L425.0 346.4 L422.1 345.7 L420.7 342.9 L418.6 343.6 L415.7 341.4 L413.6 344.3 L410.7 346.4 L407.1 347.1 L404.3 353.6 L402.9 360.0 L399.3 364.3 L397.1 370.7 L395.0 370.0 L392.4 362.1 L390.7 356.4 L389.3 346.4 L387.6 342.1 L385.7 343.6 L383.6 344.3 L381.4 341.4 L378.6 336.4 L375.7 332.9 L372.9 333.6 L370.0 334.3 L366.4 335.0 L364.3 337.9 L361.4 339.3 L360.0 346.4 L358.6 352.9 L355.7 357.1 L354.3 350.0 L352.9 338.6 L350.0 340.0 L347.9 337.1 L344.3 330.7 L338.6 332.1 L335.7 342.9 L332.1 348.6 L327.9 348.6 L325.0 342.9 L318.6 345.7 L314.3 351.4 L306.4 352.9 L303.6 357.9 L300.0 363.6 L296.9 362.9 L295.4 350.0 L293.6 354.3 L290.7 351.4 L287.1 354.3 L282.9 352.9 L278.6 344.3 L275.0 340.7 L270.7 344.3 L268.6 350.0 L262.9 351.4 L258.6 352.9 L254.3 354.3 L249.3 357.1 L247.9 360.0 L245.7 367.1 L242.1 380.0 L238.6 381.4 L237.1 389.3 L234.3 392.1 L231.4 395.0 L230.0 388.6 L227.9 387.1 L225.7 388.6 L223.6 385.7 L221.4 387.1 L219.3 383.6 L217.9 385.7 L215.7 390.7 L213.6 394.3 L212.1 400.0 L211.7 397.9 L210.0 397.5 L207.5 395.0 L205.4 392.5 L204.2 386.7 L202.5 378.3 L200.0 376.2 L196.7 378.3 L195.0 380.8 L191.7 385.0 L189.6 382.5 L187.5 390.8 L186.7 393.3 L180.0 393.8 L175.8 395.0 L173.3 403.3 L171.7 410.0 L170.0 415.0 L168.3 418.3 L166.7 413.3 L164.2 416.2 L162.1 415.0 L160.0 409.2 L158.3 407.5 L155.4 408.8 L154.2 407.5 L151.7 408.8 L148.8 409.2 L147.1 402.5 L145.4 408.3 L143.3 403.3 L140.8 405.8 L138.3 403.3 L136.2 400.0 L135.0 410.8 L132.5 411.7 L129.2 416.7 L126.7 431.7 L125.0 436.7 L124.3 446.7 L124.0 458.3 L122.1 463.3 L120.8 476.7 L120.0 483.3 L116.2 491.7 L115.4 495.8 L113.3 486.7 L111.7 502.5 Z" fill="#C25004" fill-opacity="0.3"/>
<text x="1152" y="239.5" text-anchor="middle" font-size="38.0" fill="#C25004" stroke="#C25004" stroke-width="1.3" stroke-linejoin="round">53.2% Disapprove</text>
<text x="1152" y="596.1" text-anchor="middle" font-size="38.0" letter-spacing="0.24" fill="#388004" stroke="#388004" stroke-width="1.3" stroke-linejoin="round">42.8% Approve</text>
<text x="1265.5" y="62.85" text-anchor="middle" font-size="22.76" letter-spacing="0.18" fill="#AAAAAA" stroke="#AAAAAA" stroke-width="1.2" stroke-linejoin="round">DAY 977</text>
<line x1="1271.4" x2="1271.4" y1="908.8" y2="14.67" stroke="#000" stroke-width="2.846" stroke-dasharray="2.846 8.537"/>
<rect x="53.85" y="14.67" width="1275.48" height="894.03" fill="none" stroke="#282828" stroke-width="2.84"/>
</g>
<g stroke="#282828" stroke-width="2.84">
<line x1="46.52" x2="53.85" y1="867.87" y2="867.87"/>
<line x1="46.52" x2="53.85" y1="664.73" y2="664.73"/>
<line x1="46.52" x2="53.85" y1="461.59" y2="461.59"/>
<line x1="46.52" x2="53.85" y1="258.45" y2="258.45"/>
<line x1="46.52" x2="53.85" y1="55.31" y2="55.31"/>
<line x1="85.60" x2="85.60" y1="908.70" y2="916.03"/>
<line x1="518.90" x2="518.90" y1="908.70" y2="916.03"/>
<line x1="952.10" x2="952.10" y1="908.70" y2="916.03"/>
</g>
<g font-size="23.47" fill="#3A3A3A">
<text x="40.65" y="877.17" text-anchor="end">0</text>
<text x="40.65" y="674.03" text-anchor="end">20</text>
<text x="40.65" y="470.89" text-anchor="end">40</text>
<text x="40.65" y="267.75" text-anchor="end">60</text>
<text x="40.65" y="64.61" text-anchor="end">80</text>
<text x="85.60" y="939" text-anchor="middle">Jan-17</text>
<text x="518.90" y="939" text-anchor="middle">Jan-18</text>
<text x="952.10" y="939" text-anchor="middle">Jan-19</text>
</g>
</svg>
</body></html>
